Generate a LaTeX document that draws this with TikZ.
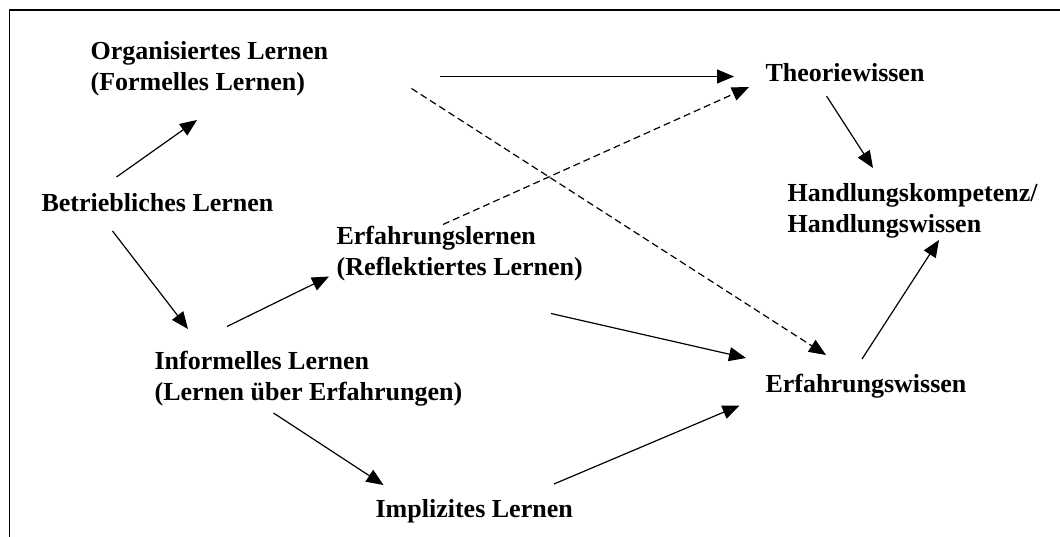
\documentclass[tikz,border=0pt]{standalone}
\usepackage{fontspec}
\setmainfont{Liberation Serif}
\usetikzlibrary{arrows.meta}

\begin{document}
\begin{tikzpicture}[x=1pt,y=-1pt, line width=1.2pt, >={Triangle[length=17pt,width=14pt]},
  txt/.style={anchor=base west, inner sep=0pt, align=left, font=\fontsize{26}{31}\selectfont\bfseries},
  pt/.style={inner sep=0pt, outer sep=0pt, minimum size=0pt},
  dsh/.style={dash pattern=on 7pt off 4pt}]
\useasboundingbox (0,0) rectangle (1060,537);
\draw[line width=1.5pt] (9.5,537) -- (9.5,10) -- (1060,10);
% texts (base = last line)
\node (org) at (90,90.5) [txt] {Organisiertes Lernen\\(Formelles Lernen)};
\node (betr) at (41,212) [txt] {Betriebliches Lernen};
\node (erfl) at (336,276) [txt] {Erfahrungslernen\\(Reflektiertes Lernen)};
\node (inf) at (154,400.5) [txt] {Informelles Lernen\\(Lernen über Erfahrungen)};
\node (impl) at (375,517) [txt] {Implizites Lernen};
\node (theo) at (765,82) [txt] {Theoriewissen};
\node (hand) at (787,233) [txt] {Handlungskompetenz/\\Handlungswissen};
\node (erfw) at (765,392) [txt] {Erfahrungswissen};
% arrow ends
\node (b1) at (116.5,177) [pt] {};
\node (b2) at (112.5,231) [pt] {};
\node (o1) at (197,120) [pt] {};
\node (o2) at (440,76.5) [pt] {};
\node (o3) at (411.5,88.5) [pt] {};
\node (i0) at (188,329) [pt] {};
\node (i1) at (227,326.5) [pt] {};
\node (i2) at (273.5,413) [pt] {};
\node (e0) at (329,276.5) [pt] {};
\node (e1) at (443,224.5) [pt] {};
\node (e2) at (551,313.5) [pt] {};
\node (m0) at (383.5,485) [pt] {};
\node (m1) at (554,484) [pt] {};
\node (t0) at (734,76.5) [pt] {};
\node (t1) at (749,87) [pt] {};
\node (t2) at (826.5,96) [pt] {};
\node (h0) at (873,168) [pt] {};
\node (h1) at (939,240) [pt] {};
\node (w0) at (826,355) [pt] {};
\node (w1) at (746,358) [pt] {};
\node (w2) at (739.5,405.5) [pt] {};
\node (w3) at (862,359) [pt] {};
\draw[->] (b1) -- (o1);
\draw[->] (b2) -- (i0);
\draw[->] (o2) -- (t0);
\draw[->,dsh] (o3) -- (w0);
\draw[->,dsh] (e1) -- (t1);
\draw[->] (i1) -- (e0);
\draw[->] (i2) -- (m0);
\draw[->] (e2) -- (w1);
\draw[->] (m1) -- (w2);
\draw[->] (t2) -- (h0);
\draw[->] (w3) -- (h1);
\end{tikzpicture}
\end{document}
